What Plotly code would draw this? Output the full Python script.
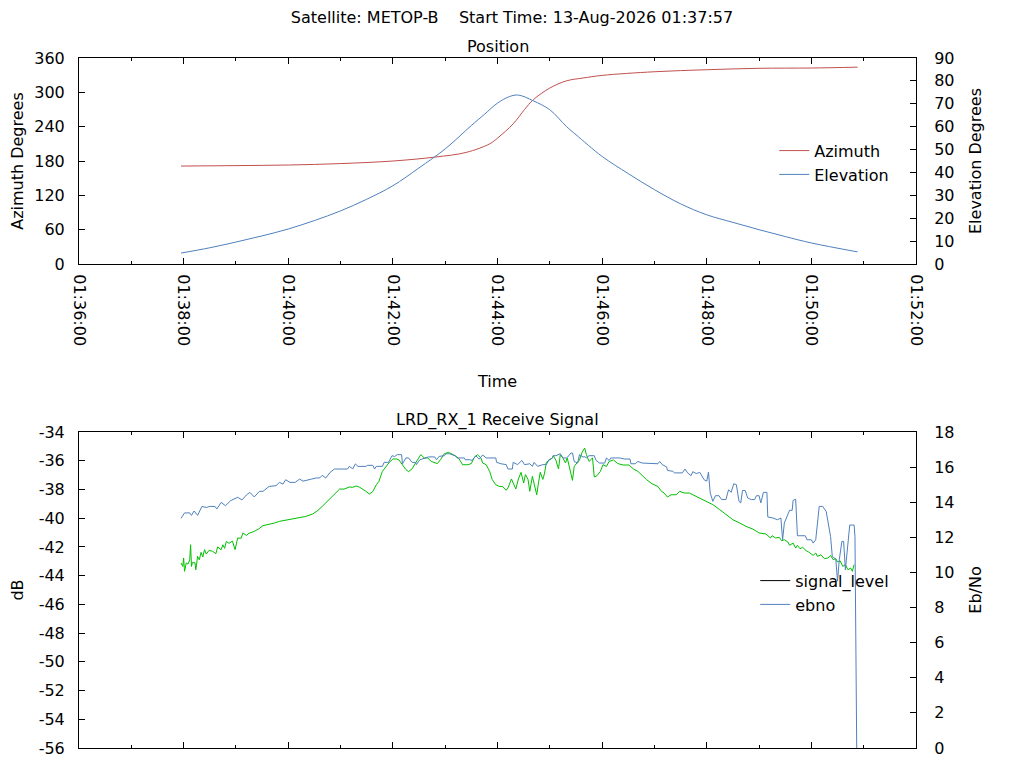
import pandas as pd
import plotly.graph_objects as go
from plotly.subplots import make_subplots

DAY = "2026-08-13"
SATELLITE = "METOP-B"
START_TIME = "01:37:57"
RECEIVER = "LRD_RX_1"

# position of the satellite during the pass
az_time = ["01:37:57", "01:39:00", "01:40:00", "01:41:00", "01:42:00", "01:42:49",
           "01:43:24", "01:43:51", "01:44:00", "01:44:18", "01:44:31", "01:44:41",
           "01:45:00", "01:45:19", "01:45:38", "01:46:00", "01:47:00", "01:48:00",
           "01:49:00", "01:50:00", "01:50:53"]
azimuth = [171.2, 172.0, 173.0, 175.5, 180.0, 187.0,
           195.0, 210.0, 220.0, 245.0, 270.0, 287.0,
           307.5, 320.0, 325.0, 329.6, 336.0, 339.5,
           342.0, 342.5, 344.0]

el_time = ["01:37:57", "01:38:30", "01:39:00", "01:39:30", "01:40:00", "01:40:30",
           "01:41:00", "01:41:30", "01:42:00", "01:42:30", "01:43:00", "01:43:30",
           "01:43:45", "01:44:00", "01:44:14", "01:44:24", "01:44:41", "01:45:00",
           "01:45:19", "01:45:30", "01:46:00", "01:46:30", "01:47:00", "01:47:30",
           "01:48:00", "01:48:30", "01:49:00", "01:49:30", "01:50:00", "01:50:53"]
elevation = [4.8, 7.1, 9.6, 12.3, 15.3, 19.0,
             23.2, 28.3, 34.2, 42.0, 50.3, 60.5,
             65.4, 70.3, 73.2, 73.8, 71.3, 67.4,
             60.1, 56.5, 47.0, 39.5, 32.5, 26.3,
             21.5, 18.2, 15.0, 12.0, 9.2, 5.3]

# receive signal, seconds after START_TIME
sig_sec = [0, 2, 3, 4, 6, 8, 10, 11, 12, 13, 16, 17, 19, 21, 23, 25, 27, 29, 32, 36,
           40, 42, 46, 48, 50, 52, 55, 59, 62, 65, 69, 71, 75, 78, 84, 89, 94, 101, 107, 113,
           120, 128, 136, 143, 151, 157, 162, 170, 176, 182, 187, 193, 197, 201, 205, 208, 212, 216, 220, 224,
           227, 231, 235, 239, 243, 247, 250, 254, 258, 261, 265, 269, 273, 275, 279, 283, 287, 291, 294, 298,
           302, 307, 311, 315, 319, 323, 329, 333, 336, 340, 344, 346, 350, 354, 357, 361, 365, 369, 373, 375,
           379, 381, 384, 387, 390, 393, 395, 398, 400, 403, 405, 408, 410, 412, 415, 417, 419, 423, 426, 427,
           430, 433, 435, 438, 441, 443, 445, 449, 451, 454, 457, 460, 463, 465, 468, 472, 474, 477, 481, 484,
           488, 491, 496, 501, 507, 514, 519, 524, 530, 534, 540, 547, 551, 554, 558, 562, 568, 572, 577, 583,
           587, 595, 602, 610, 618, 625, 633, 641, 648, 656,
           663, 671, 676, 678, 682, 686, 689, 692, 696, 698, 702, 705, 707, 710, 713, 717, 720, 725, 728, 730,
           734, 738, 742, 745, 748, 751, 753, 756, 759, 762, 765, 768, 770, 772]
signal_level = [-43.12, -43.36, -42.77, -43.7, -43.12, -43.2, -42.9, -41.85, -43.36, -43.1,
                -43.1, -43.59, -42.66, -42.9, -42.38, -42.7, -42.19, -42.5, -42.25, -42.3,
                -42.47, -42.0, -42.2, -41.85, -42.1, -41.62, -41.75, -41.6, -42.19, -41.38,
                -41.4, -41.03, -41.2, -41.05, -40.92, -40.75, -40.52, -40.45, -40.34, -40.22,
                -40.15, -40.06, -39.99, -39.88, -39.71, -39.46, -39.18, -38.71, -38.37, -37.97,
                -37.98, -37.83, -37.85, -37.76, -37.85, -37.95, -38.13, -38.32, -38.15, -37.67,
                -37.44, -36.74, -36.39, -36.11, -35.88, -35.88, -35.95, -36.28, -36.62, -36.76,
                -36.57, -36.16, -35.81, -35.58, -35.81, -35.81, -36.05, -36.16, -36.2, -35.9,
                -35.51, -35.42, -35.55, -35.67, -35.88, -36.28, -36.28, -36.2, -35.81, -35.58,
                -35.81, -36.16, -36.28, -36.74, -37.32, -37.67, -37.79, -37.8, -38.06, -37.9,
                -37.27, -37.55, -37.97, -37.27, -36.81, -37.55, -36.97, -37.3, -38.13, -37.09,
                -37.55, -38.37, -37.55, -36.81, -37.3, -36.86, -36.11, -35.97, -35.81, -35.65,
                -35.97, -36.58, -35.58, -35.81, -36.16, -35.81, -36.28, -37.37, -36.39, -36.2,
                -35.95, -35.42, -35.12, -35.58, -36.05, -35.81, -37.13, -37.05, -36.74, -36.28,
                -36.4, -36.05, -35.95, -36.2, -36.3, -36.3, -36.58, -36.74, -37.09, -37.32,
                -37.6, -37.79, -38.13, -38.25, -38.53, -38.37, -38.37, -38.13, -38.25, -38.25,
                -38.37, -38.6, -38.83, -39.06, -39.41, -39.76, -40.11, -40.34, -40.57, -40.76,
                -41.03, -41.1, -41.38, -41.22, -41.38, -41.33, -41.57, -41.5, -41.66, -41.89,
                -41.73, -42.08, -41.89, -42.13, -42.03, -42.26, -42.36, -42.59, -42.43, -42.66,
                -42.55, -42.82, -42.77, -42.59, -42.89, -42.82, -43.05, -42.97, -43.36, -43.24,
                -43.59, -43.47, -43.7, -43.24]

ebno_sec = [0, 4, 10, 12, 15, 19, 24, 29, 33, 39, 41, 46, 51, 57, 65, 70, 75, 79, 84, 90,
            94, 98, 101, 109, 113, 117, 120, 125, 131, 136, 140, 150, 155, 159, 162, 166, 171, 176, 191, 193,
            197, 200, 203, 212, 214, 220, 222, 224, 231, 233, 238, 242, 245, 248, 253, 254, 258, 261, 265, 269,
            270, 274, 279, 284, 291, 293, 296, 300, 302, 304, 308, 314, 317, 325, 326, 331, 334, 338, 342, 346,
            350, 361, 362, 367, 373, 375, 380, 381, 386, 391, 394, 400, 403, 405, 409, 415, 419, 422, 426, 427,
            430, 435, 438, 442, 445, 447, 449, 451, 455, 457, 461, 464, 465, 468, 474, 476, 480, 486, 488, 491,
            493, 503, 509, 515, 516, 521, 524, 529, 531, 539, 547, 549, 552, 557, 558, 564, 566, 575, 578, 581,
            583, 585, 587, 591, 595, 598, 600, 603, 605, 606, 607, 610, 613, 617, 620, 625, 628, 631, 634, 637,
            640, 642, 644, 647, 650, 654, 658, 660, 663, 665, 668, 672, 673, 679, 684, 688, 690, 692, 695, 698,
            701, 702, 705, 707, 716, 718, 723, 725, 728, 730, 732, 736, 740, 745, 747, 751, 753, 755, 758, 760,
            762, 767, 772, 773, 774, 775]
ebno = [13.08, 13.39, 13.39, 13.25, 13.5, 13.25, 13.76, 13.7, 13.76, 13.76,
        13.61, 13.99, 13.8, 14.09, 14.28, 14.13, 14.41, 14.56, 14.3, 14.62,
        14.62, 14.81, 14.9, 14.94, 15.13, 15.03, 15.28, 15.13, 15.13, 15.32,
        15.2, 15.32, 15.38, 15.38, 15.53, 15.38, 15.7, 15.89, 15.89, 16.04,
        15.9, 16.18, 16.04, 16.04, 16.1, 16.1, 15.89, 16.04, 16.04, 16.27,
        16.27, 16.65, 16.6, 16.71, 16.71, 16.19, 16.52, 16.52, 16.27, 16.27,
        16.14, 16.42, 16.52, 16.58, 16.58, 16.42, 16.61, 16.61, 16.65, 16.76,
        16.76, 16.65, 16.52, 16.52, 16.42, 16.42, 16.38, 16.65, 16.46, 16.69,
        16.52, 16.52, 16.27, 16.19, 16.14, 15.89, 15.89, 16.27, 16.14, 16.38,
        16.14, 16.19, 16.04, 16.27, 16.04, 16.14, 16.14, 16.42, 16.52, 16.65,
        16.65, 16.76, 16.52, 16.52, 16.65, 16.8, 16.8, 16.32, 16.23, 16.71,
        16.58, 16.58, 16.52, 16.65, 16.65, 16.38, 16.23, 16.23, 16.52, 16.38,
        16.52, 16.52, 16.46, 16.46, 16.19, 16.19, 16.32, 16.23, 16.23, 16.19,
        16.19, 16.32, 16.14, 16.01, 15.81, 15.76, 15.67, 15.67, 15.89, 15.67,
        15.57, 15.51, 15.74, 15.63, 15.7, 15.47, 15.28, 15.2, 15.72, 15.09,
        14.52, 14.05, 14.37, 14.37, 14.15, 14.15, 14.71, 14.56, 15.05, 15.0,
        14.05, 13.96, 14.67, 14.67, 14.24, 14.15, 14.15, 14.37, 14.37, 13.96,
        14.56, 14.56, 13.16, 13.1, 13.0, 13.1, 11.86, 12.82, 13.2, 13.54,
        13.54, 14.1, 14.17, 12.09, 12.09, 11.86, 11.86, 11.67, 11.86, 13.0,
        13.76, 13.76, 13.47, 12.05, 10.91, 10.76, 9.5, 10.72, 11.77, 11.77,
        10.15, 12.7, 12.7, 12.05, 5.8, 0.0]

x_range = ["01:36:00", "01:52:00"]
az_ticks = list(range(0, 361, 60))
el_ticks = list(range(0, 91, 10))
db_ticks = list(range(-56, -33, 2))
ebno_ticks = list(range(0, 19, 2))

RED = "#c0504d"
BLUE = "#4f81bd"
GREEN = "#00c000"
FONT = 16
# the page body adds an 8 px margin, so the figure is drawn 8 px smaller
W, H = 1016, 760


def clock(times):
    return pd.to_datetime([DAY + " " + t for t in times])


def after_start(secs):
    return pd.to_datetime(DAY + " " + START_TIME) + pd.to_timedelta(secs, unit="s")


fig = make_subplots(rows=2, cols=1, specs=[[{"secondary_y": True}], [{"secondary_y": True}]])

fig.add_trace(go.Scatter(x=clock(az_time), y=azimuth, name="Azimuth", mode="lines",
                         line=dict(color=RED, width=1, shape="spline", smoothing=1.0)),
              row=1, col=1, secondary_y=False)
fig.add_trace(go.Scatter(x=clock(el_time), y=elevation, name="Elevation", mode="lines",
                         line=dict(color=BLUE, width=1, shape="spline", smoothing=1.0)),
              row=1, col=1, secondary_y=True)

# the key of the original shows signal_level in black although it is drawn green
fig.add_trace(go.Scatter(x=[None], y=[None], name="signal_level", mode="lines",
                         line=dict(color="black", width=1), legend="legend2"),
              row=2, col=1, secondary_y=False)
fig.add_trace(go.Scatter(x=after_start(sig_sec), y=signal_level, name="signal_level", mode="lines",
                         line=dict(color=GREEN, width=1), showlegend=False),
              row=2, col=1, secondary_y=False)
fig.add_trace(go.Scatter(x=after_start(ebno_sec), y=ebno, name="ebno", mode="lines",
                         line=dict(color=BLUE, width=1), legend="legend2"),
              row=2, col=1, secondary_y=True)

frame = dict(showline=True, linecolor="black", linewidth=1, ticks="inside", ticklen=6,
             tickcolor="black", showgrid=False, zeroline=False, automargin=False,
             tickfont=dict(size=FONT))
time_axis = dict(frame, type="date", domain=[0, 1], range=list(clock(x_range)), dtick=120000,
                 tickformat="%H:%M:%S", tickangle=90, mirror="ticks", ticklabelstandoff=6,
                 minor=dict(dtick=60000, ticks="inside", ticklen=3, tickcolor="black"))


def title(text, standoff):
    return dict(text=text, standoff=standoff, font=dict(size=FONT))


fig.update_layout(
    width=W, height=H,
    margin=dict(l=71, r=108, t=50, b=20),
    paper_bgcolor="white", plot_bgcolor="white",
    font=dict(family="DejaVu Sans", size=FONT, color="black"),
    title=dict(text=f"Satellite: {SATELLITE}\u00a0\u00a0\u00a0\u00a0Start Time: 13-Aug-2026 {START_TIME}",
               x=504 / W, xref="container", xanchor="center",
               y=1 - 9 / H, yref="container", yanchor="middle",
               font=dict(size=FONT)),
    xaxis=dict(time_axis, title=title("Time", 30)),
    xaxis2=dict(time_axis, showticklabels=False),
    yaxis=dict(frame, domain=[0.7014, 1], range=[0, 360], tickvals=az_ticks,
               ticktext=[str(v) for v in az_ticks], ticklabelstandoff=10,
               title=title("Azimuth Degrees", 12)),
    yaxis2=dict(frame, range=[0, 90], tickvals=el_ticks,
                ticktext=[str(v) for v in el_ticks], ticklabelstandoff=14,
                title=title("Elevation Degrees", 16)),
    yaxis3=dict(frame, domain=[0, 0.458], range=[-56, -34], tickvals=db_ticks,
                ticktext=[str(v) for v in db_ticks], ticklabelstandoff=10,
                title=title("dB", 20)),
    yaxis4=dict(frame, range=[0, 18], tickvals=ebno_ticks,
                ticktext=[str(v) for v in ebno_ticks], ticklabelstandoff=14,
                title=title("Eb/No", 16)),
    legend=dict(x=0.974, xanchor="right", y=0.8903, yanchor="top",
                bgcolor="rgba(0,0,0,0)", tracegroupgap=0, font=dict(size=FONT)),
    legend2=dict(x=0.974, xanchor="right", y=0.2671, yanchor="top",
                 bgcolor="rgba(0,0,0,0)", tracegroupgap=0, font=dict(size=FONT)),
    showlegend=True,
)

fig.add_annotation(text="Position", xref="x domain", yref="y domain", x=0.5, y=1,
                   yanchor="bottom", yshift=0, showarrow=False)
fig.add_annotation(text=f"{RECEIVER} Receive Signal", xref="x2 domain", yref="y3 domain",
                   x=0.5, y=1, yanchor="bottom", yshift=0, showarrow=False)

fig.write_html("out.html")
